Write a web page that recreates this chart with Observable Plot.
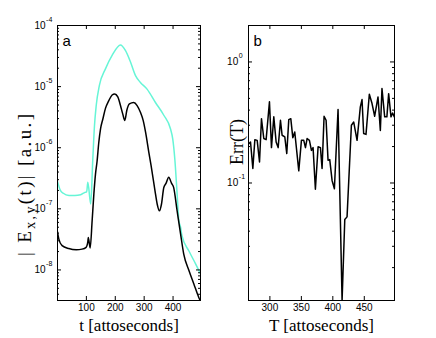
<!DOCTYPE html>
<html><head><meta charset="utf-8">
<script src="https://cdn.jsdelivr.net/npm/d3@7"></script>
<script src="https://cdn.jsdelivr.net/npm/@observablehq/plot@0.6"></script>
<style>
body{margin:0;background:#fff;}
#wrap{position:relative;width:436px;height:338px;background:#fff;}
#wrap svg{position:absolute;top:0;}
</style></head><body><div id="wrap"></div>
<script>
// Panel a: |E_{x,y}(t)| vs t (attoseconds)
const tCyan = [0,10,20,40,60,80,95,101,105,115,122,128,134,145,166,189,218,235,253,270,287,310,339,368,391,399,406,414,420,426,431,455,478,498];
const eCyan = [2.82e-7,2.0e-7,1.8e-7,1.66e-7,1.65e-7,1.7e-7,1.86e-7,1.9e-7,2.72e-7,1.2e-7,6.2e-7,2.29e-6,4.9e-6,1.05e-5,1.95e-5,3.24e-5,4.8e-5,3.9e-5,2.5e-5,1.51e-5,1.17e-5,9.1e-6,5.5e-6,3.4e-6,2.04e-6,1.38e-6,6.6e-7,1.78e-7,6.5e-8,5.0e-8,3.6e-8,2.04e-8,1.26e-8,8.1e-9];
const tBlack = [0,4.6,16,39,65,85,99,105,106.5,113,120,126,131.5,137,143,149,157,166,177.6,189,198,208.7,218,226,233,240,249,264,275.6,287,296.5,305,316,324,339,345,353,360,368,376,385,394.5,402,414,426,437,455,472,489,500];
const eBlack = [4.2e-8,3.2e-8,2.5e-8,2.24e-8,2.14e-8,2.19e-8,2.34e-8,2.9e-8,3.4e-8,2.29e-8,6.5e-8,1.78e-7,3.7e-7,6.0e-7,1.23e-6,2.04e-6,2.95e-6,4.4e-6,5.9e-6,7.3e-6,7.6e-6,6.8e-6,4.9e-6,3.55e-6,2.8e-6,4.1e-6,5.2e-6,5.5e-6,4.9e-6,3.8e-6,2.8e-6,1.78e-6,8.5e-7,5.1e-7,1.78e-7,1.2e-7,9.3e-8,1.2e-7,2.24e-7,2.63e-7,3.3e-7,2.63e-7,2.24e-7,9.3e-8,3.9e-8,1.82e-8,9.8e-9,5.9e-9,3.55e-9,2.75e-9];
const xTicksA = [100,200,300,400];
const yDecadesA = [1e-8,1e-7,1e-6,1e-5,1e-4];
const yExpA = ["-8","-7","-6","-5","-4"];

// Panel b: Err(T) vs T (attoseconds)
const tErr = [266.5,269.2,272.9,276.1,279.8,283.5,286.6,290.3,294.0,299.3,302.5,306.2,309.9,313.1,316.8,319.4,323.7,326.8,330.0,333.2,336.4,339.5,345.9,350.1,353.8,356.5,359.1,362.8,366.0,368.6,372.3,376.6,380.3,382.9,386.1,389.3,392.4,395.1,398.8,402.5,408.3,414.7,419,422.6,429.5,433.2,438.5,443.7,446.4,449.0,452.7,458.0,462.3,466.5,471.8,475.5,478.1,482.4,485.9,488.7,492.4,495.0,497.7];
const err = [0.211,0.218,0.132,0.228,0.225,0.149,0.340,0.233,0.228,0.468,0.196,0.352,0.218,0.196,0.330,0.248,0.240,0.175,0.334,0.340,0.237,0.264,0.126,0.225,0.225,0.196,0.233,0.225,0.186,0.196,0.0887,0.199,0.196,0.132,0.356,0.330,0.154,0.156,0.105,0.0897,0.404,0.0107,0.050,0.0525,0.300,0.319,0.225,0.425,0.489,0.256,0.252,0.541,0.453,0.356,0.514,0.272,0.603,0.352,0.352,0.547,0.352,0.379,0.352];
const xTicksB = [300,350,400,450];
const yDecadesB = [0.1,1];
const yExpB = ["-1","0"];

const cyanColor = "#66f5d6";
const sans = "'Liberation Sans', Arial, Helvetica, sans-serif";
const serif = "'Liberation Serif', 'Times New Roman', serif";

function minorTicks(domain) {
  return d3.scaleLog().domain(domain).ticks()
    .filter(v => Math.abs(Math.log10(v) - Math.round(Math.log10(v))) > 1e-6 && v > domain[0] && v < domain[1]);
}

function panel({width, marginLeft, marginRight, yDomain, series, xTicks, decades, exps, baseDx, letter}) {
  const marginTop = 25, marginBottom = 38, height = 338;
  const fw = width - marginLeft - marginRight;
  const fh = height - marginTop - marginBottom;
  const minors = minorTicks(yDomain);
  const marks = [];
  for (const s of series) {
    marks.push(Plot.line(s.x.map((x, i) => i), {
      x: i => s.x[i], y: i => s.y[i], stroke: s.color, strokeWidth: 1.5,
      curve: s.curve, clip: true
    }));
  }
  marks.push(Plot.frame({stroke: "black", strokeWidth: 1}));
  marks.push(Plot.tickY(decades, {y: d => d, stroke: "black", insetRight: fw - 4}));
  marks.push(Plot.tickY(decades, {y: d => d, stroke: "black", insetLeft: fw - 4}));
  marks.push(Plot.tickY(minors, {y: d => d, stroke: "black", insetRight: fw - 2}));
  marks.push(Plot.tickY(minors, {y: d => d, stroke: "black", insetLeft: fw - 2}));
  marks.push(Plot.tickX(xTicks, {x: d => d, stroke: "black", insetTop: fh - 4}));
  marks.push(Plot.tickX(xTicks, {x: d => d, stroke: "black", insetBottom: fh - 4}));
  marks.push(Plot.text(xTicks, {x: d => d, frameAnchor: "bottom", lineAnchor: "top", dy: 2.9, text: d => String(d), fontSize: 10, fill: "black"}));
  // y tick labels: "10" plus raised exponent
  marks.push(Plot.text(decades, {y: v => v, frameAnchor: "left", textAnchor: "end", dx: baseDx, text: () => "10", fontSize: 10, fill: "black"}));
  marks.push(Plot.text(decades, {y: v => v, frameAnchor: "left", textAnchor: "start", dx: baseDx + 0.6, dy: -6.2, text: (v, i) => exps[i], fontSize: 7, fill: "black"}));
  marks.push(Plot.text([letter], {frameAnchor: "top-left", lineAnchor: "top", textAnchor: "start", dx: 5, dy: 9.4, text: d => d, fontSize: 15, fill: "black"}));
  return {marks, width, height, marginLeft, marginRight, marginTop, marginBottom};
}

const pa = panel({
  width: 224, marginLeft: 57, marginRight: 24,
  yDomain: [Math.pow(10, -8.5), 1e-4],
  series: [
    {x: tCyan, y: eCyan, color: cyanColor, curve: "monotone-x"},
    {x: tBlack, y: eBlack, color: "black", curve: "monotone-x"}
  ],
  xTicks: xTicksA, decades: yDecadesA, exps: yExpA, baseDx: -12, letter: "a"
});
pa.marks.push(Plot.text(["t [attoseconds]"], {frameAnchor: "bottom", lineAnchor: "bottom", textAnchor: "middle", dy: 30.5, text: d => d, fontSize: 17, fontFamily: serif, fill: "black"}));

const pb = panel({
  width: 212, marginLeft: 24, marginRight: 42,
  yDomain: [0.0107, 2],
  series: [{x: tErr, y: err, color: "black", curve: "linear"}],
  xTicks: xTicksB, decades: yDecadesB, exps: yExpB, baseDx: -10.3, letter: "b"
});
pb.marks.push(Plot.text(["T [attoseconds]"], {frameAnchor: "bottom", lineAnchor: "bottom", textAnchor: "middle", dy: 30.5, text: d => d, fontSize: 17, fontFamily: serif, fill: "black"}));
pb.marks.push(Plot.text(["Err(T)"], {frameAnchor: "left", textAnchor: "middle", rotate: -90, dx: -11.6, dy: -21, text: d => d, fontSize: 18, fontFamily: serif, fill: "black"}));

function make(p, xDomain, yDomain) {
  return Plot.plot({
    width: p.width, height: p.height,
    marginLeft: p.marginLeft, marginRight: p.marginRight, marginTop: p.marginTop, marginBottom: p.marginBottom,
    x: {domain: xDomain, axis: null},
    y: {type: "log", domain: yDomain, axis: null},
    style: {fontFamily: sans, fontSize: "10px", background: "transparent", color: "black", overflow: "visible"},
    marks: p.marks
  });
}

const wrap = document.getElementById("wrap");
const svgA = make(pa, [0, 495], [Math.pow(10, -8.5), 1e-4]);
const svgB = make(pb, [266, 498], [0.0107, 2]);
svgA.style.left = "0px";
svgB.style.left = "224px";
wrap.appendChild(svgA);
wrap.appendChild(svgB);

// y label of panel a with subscript
const lab = d3.select(svgA).append("text")
  .attr("transform", "translate(30.5,185) rotate(-90)")
  .attr("text-anchor", "middle")
  .attr("font-family", serif)
  .attr("font-size", 19)
  .attr("textLength", 142)
  .attr("lengthAdjust", "spacing")
  .attr("fill", "black");
lab.append("tspan").text("| E");
lab.append("tspan").attr("dy", 4).attr("font-size", 14).text("x,y");
lab.append("tspan").attr("dy", -4).text("(t)| [a.u.]");
</script></body></html>
